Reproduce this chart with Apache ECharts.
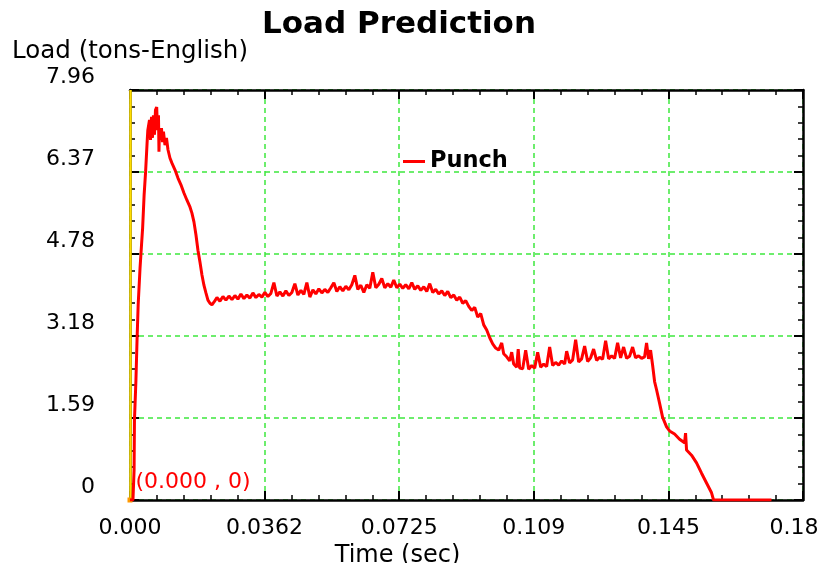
<!DOCTYPE html>
<html>
<head>
<meta charset="utf-8">
<title>Load Prediction</title>
<script src="https://cdn.jsdelivr.net/npm/echarts@6/dist/echarts.min.js"></script>
<style>
  html, body { margin: 0; padding: 0; background: #fff; }
  #chart { width: 821px; height: 563px; }
</style>
</head>
<body>
<div id="chart"></div>
<script>
// tick labels as printed on the original plot
var xTicks = ['0.000', '0.0362', '0.0725', '0.109', '0.145', '0.18'];
var yTicks = ['0', '1.59', '3.18', '4.78', '6.37', '7.96'];
var seriesName = 'Punch';

// time (sec)
var timeSec = [
  0, 0.0008, 0.0011, 0.0012, 0.0016, 0.0019, 0.0022, 0.0027, 0.0031, 0.0034, 0.0038, 0.0042, 0.0046, 0.0048,
  0.00525, 0.00552, 0.00579, 0.00605, 0.00632, 0.00659, 0.00686, 0.00719, 0.00740, 0.00767, 0.00780, 0.00794,
  0.00821, 0.00848, 0.00875, 0.00901, 0.00942, 0.00982, 0.01023,
  0.01076, 0.01130, 0.01211, 0.01292, 0.01372, 0.01453, 0.01534, 0.01615, 0.01668, 0.01722, 0.01776, 0.01830,
  0.01884, 0.01938, 0.01991, 0.02045, 0.02099, 0.02153, 0.02207,
  0.02260, 0.02341, 0.02422, 0.02503, 0.02583, 0.02664, 0.02745, 0.02826, 0.02906, 0.02987, 0.03068, 0.03148,
  0.03229, 0.03310, 0.03391, 0.03471, 0.03552, 0.03633, 0.03714, 0.03794, 0.03875, 0.03956, 0.04037, 0.04117,
  0.04198, 0.04279, 0.04359, 0.04440, 0.04521, 0.04602, 0.04682, 0.04763, 0.04844, 0.04925, 0.05005, 0.05086,
  0.05167, 0.05247, 0.05328, 0.05409, 0.05490, 0.05570, 0.05651, 0.05732, 0.05813, 0.05893, 0.05974, 0.06055,
  0.06135, 0.06216, 0.06297, 0.06378, 0.06458, 0.06539, 0.06620, 0.06701, 0.06781, 0.06862, 0.06943, 0.07024,
  0.07104, 0.07185, 0.07266, 0.07346, 0.07427, 0.07508, 0.07589, 0.07669, 0.07750, 0.07831, 0.07912, 0.07992,
  0.08073, 0.08154, 0.08234, 0.08315, 0.08396, 0.08477, 0.08557, 0.08638, 0.08719, 0.08800, 0.08880, 0.08961,
  0.09042, 0.09122,
  0.09203, 0.09284, 0.09365, 0.09446, 0.09526, 0.09607, 0.09688, 0.09768, 0.09849, 0.09930, 0.10011, 0.10064,
  0.10145, 0.10226, 0.10280, 0.10333, 0.10414, 0.10455, 0.10495,
  0.10576, 0.10656, 0.10737, 0.10818, 0.10899, 0.10979, 0.11060, 0.11141, 0.11221, 0.11302, 0.11383, 0.11464,
  0.11544, 0.11625, 0.11706, 0.11760, 0.11840, 0.11921, 0.12002, 0.12083, 0.12163, 0.12244, 0.12325, 0.12406,
  0.12486, 0.12567, 0.12648, 0.12728, 0.12809, 0.12890, 0.12971, 0.13051, 0.13132, 0.13213, 0.13294, 0.13374,
  0.13455, 0.13536, 0.13616, 0.13697, 0.13778, 0.13859, 0.13912, 0.13966, 0.14020, 0.14074,
  0.14128, 0.14181, 0.14262, 0.14343, 0.14451, 0.14531, 0.14666, 0.14801, 0.14935, 0.14962, 0.14989, 0.15123,
  0.15258, 0.15393, 0.15527, 0.15662, 0.15716, 0.17276
];

// punch load (tons-English), same order as timeSec
var loadTons = [
  0, 0, 0.58, 1.55, 2.33, 3.11, 3.79, 4.50, 4.95, 5.28, 5.92, 6.37, 6.93, 7.18,
  7.38, 6.99, 7.44, 7.03, 7.47, 7.09, 7.57, 7.63, 7.18, 7.47, 6.76, 7.22,
  6.99, 7.22, 6.95, 7.15, 6.89, 7.03, 6.80,
  6.64, 6.54, 6.41, 6.25, 6.12, 5.96, 5.82, 5.69, 5.57, 5.40, 5.15, 4.85,
  4.62, 4.37, 4.17, 4.02, 3.88, 3.82, 3.79,
  3.84, 3.93, 3.86, 3.95, 3.88, 3.96, 3.89, 3.97, 3.90, 4.00, 3.91, 3.98,
  3.92, 4.02, 3.93, 3.99, 3.94, 4.03, 3.95, 4.01, 4.22, 3.96, 4.04, 3.96,
  4.06, 3.97, 4.03, 4.20, 3.98, 4.07, 3.99, 4.22, 3.94, 4.08, 4.00, 4.10,
  4.02, 4.09, 4.03, 4.12, 4.22, 4.05, 4.14, 4.06, 4.15, 4.08, 4.18, 4.36,
  4.09, 4.17, 4.03, 4.18, 4.11, 4.42, 4.12, 4.19, 4.30, 4.12, 4.20, 4.13,
  4.27, 4.12, 4.19, 4.11, 4.18, 4.10, 4.22, 4.09, 4.16, 4.07, 4.14, 4.05,
  4.20, 4.03, 4.09, 4.00, 4.06, 3.97, 4.05, 3.93, 3.98, 3.88, 3.94, 3.82,
  3.87, 3.76,
  3.68, 3.74, 3.55, 3.62, 3.40, 3.30, 3.15, 3.03, 2.95, 2.91, 3.05, 2.84,
  2.78, 2.70, 2.87, 2.64, 2.58, 2.93, 2.56,
  2.55, 2.91, 2.54, 2.61, 2.56, 2.87, 2.58, 2.64, 2.59, 2.97, 2.61, 2.67,
  2.62, 2.70, 2.64, 2.89, 2.66, 2.72, 3.11, 2.68, 2.74, 2.99, 2.69, 2.76,
  2.93, 2.71, 2.77, 2.73, 3.09, 2.74, 2.80, 2.75, 3.05, 2.76, 2.97, 2.75,
  2.79, 2.97, 2.76, 2.80, 2.75, 2.78, 3.05, 2.74, 2.91, 2.62,
  2.30, 2.14, 1.88, 1.61, 1.42, 1.34, 1.28, 1.18, 1.11, 1.30, 0.97, 0.87,
  0.72, 0.52, 0.33, 0.14, 0, 0
];

var font = 'DejaVu Sans';
var xStep = 0.03625;
var yStep = 1.592;

var chart = echarts.init(document.getElementById('chart'));

var points = timeSec.map(function (t, i) { return [t, loadTons[i]]; });

// inside ticks shared by all four sides of the frame
var tick = { show: true, inside: true, length: 9, lineStyle: { color: '#000', width: 2 } };
var minor = { show: true, splitNumber: 5, length: 5, lineStyle: { color: '#000', width: 1.5 } };
var frame = { show: true, onZero: false, lineStyle: { color: '#000', width: 2.5 } };
var grid = { show: true, lineStyle: { color: '#3ee83e', width: 1.5, type: [5, 4] } };

chart.setOption({
  animation: false,
  backgroundColor: '#fff',
  title: {
    text: 'Load Prediction',
    left: 257,
    top: 4,
    textStyle: { fontFamily: font, fontSize: 31, fontWeight: 'bold', color: '#000' }
  },
  legend: {
    data: [seriesName],
    left: 403,
    top: 150,
    padding: 0,
    icon: 'rect',
    itemWidth: 22,
    itemHeight: 3,
    textStyle: { fontFamily: font, fontSize: 22.5, fontWeight: 'bold', color: '#000' }
  },
  grid: { left: 130, top: 90, width: 673, height: 410, outerBoundsMode: 'none' },
  xAxis: [
    {
      type: 'value', min: 0, max: xStep * 5, interval: xStep,
      name: 'Time (sec)', nameLocation: 'middle', nameGap: 32,
      nameTextStyle: { fontFamily: font, fontSize: 24, color: '#000', padding: [0, 138, 0, 0] },
      axisLine: frame, axisTick: tick, minorTick: minor, splitLine: grid,
      axisLabel: {
        margin: 17, fontFamily: font, fontSize: 22, color: '#000',
        formatter: function (v) {
          var i = Math.round(v / xStep);
          // the last label sits a little left of its tick, inside the window
          return i === xTicks.length - 1 ? '{last|' + xTicks[i] + '}' : xTicks[i];
        },
        rich: { last: { fontFamily: font, fontSize: 22, color: '#000', padding: [0, 18, 0, 0] } }
      }
    },
    {
      type: 'value', position: 'top', min: 0, max: xStep * 5, interval: xStep,
      axisLine: frame, axisTick: tick, minorTick: minor,
      splitLine: { show: false }, axisLabel: { show: false }
    }
  ],
  yAxis: [
    {
      type: 'value', min: 0, max: yStep * 5, interval: yStep,
      name: 'Load (tons-English)', nameLocation: 'end', nameGap: 22,
      nameTextStyle: { fontFamily: font, fontSize: 24.5, color: '#000' },
      axisLine: frame, axisTick: tick, minorTick: minor, splitLine: grid,
      axisLabel: {
        margin: 35, fontFamily: font, fontSize: 22, color: '#000',
        verticalAlign: 'bottom', lineHeight: 26,
        formatter: function (v) { return yTicks[Math.round(v / yStep)]; }
      }
    },
    {
      type: 'value', position: 'right', min: 0, max: yStep * 5, interval: yStep,
      axisLine: frame, axisTick: tick, minorTick: minor,
      splitLine: { show: false }, axisLabel: { show: false }
    }
  ],
  series: [
    {
      name: seriesName,
      type: 'line',
      data: points,
      showSymbol: false,
      z: 5,
      lineStyle: { color: '#ff0000', width: 3 },
      itemStyle: { color: '#ff0000' },
      markLine: {
        silent: true,
        symbol: 'none',
        z: 4,
        label: { show: false },
        lineStyle: { color: '#ffdd00', width: 2.5, type: 'solid' },
        data: [{ xAxis: 0.0007 }]
      },
      markPoint: {
        silent: true,
        symbol: 'rect',
        symbolSize: 5,
        itemStyle: { color: '#ff9900' },
        label: {
          show: true, position: 'right', distance: 3, offset: [0, -18],
          fontFamily: font, fontSize: 22, color: '#ff0000',
          formatter: '(' + timeSec[0].toFixed(3) + ' , ' + loadTons[0] + ')'
        },
        data: [{ coord: [timeSec[0], loadTons[0]] }]
      }
    }
  ]
});
</script>
</body>
</html>
